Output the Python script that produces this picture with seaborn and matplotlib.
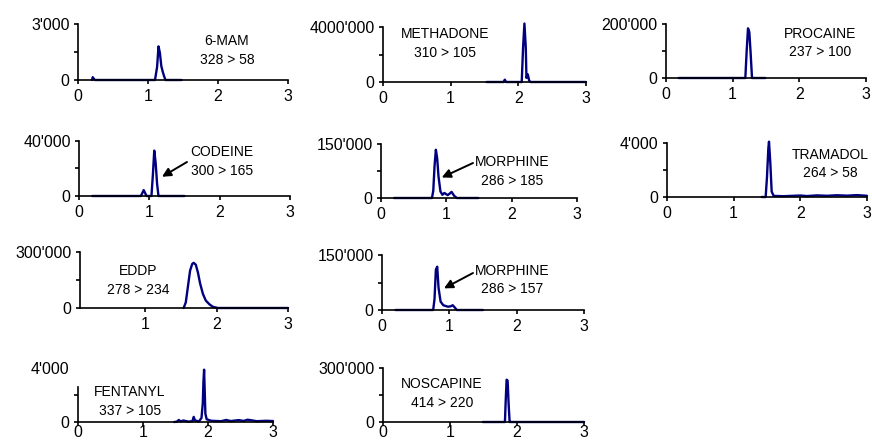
import matplotlib
matplotlib.use("Agg")
import matplotlib.pyplot as plt
from matplotlib.ticker import FixedLocator
import seaborn as sns

# ---- data: retention time (min) and counts per MRM transition ----
mam_t = [0.20, 0.21, 0.24, 0.60, 1.00, 1.10, 1.13, 1.15, 1.17, 1.19, 1.21, 1.23, 1.25, 1.48]
mam_y = [0, 150, 0, 0, 0, 0, 700, 1800, 1450, 750, 450, 200, 0, 0]

methadone_t = [1.53, 1.78, 1.80, 1.82, 2.05, 2.07, 2.09, 2.11, 2.12, 2.14, 2.16, 2.18, 3.00]
methadone_y = [0, 0, 170000, 0, 0, 2500000, 4250000, 2500000, 300000, 550000, 100000, 0, 0]

procaine_t = [0.19, 0.80, 1.19, 1.21, 1.23, 1.25, 1.27, 1.29, 1.49]
procaine_y = [0, 0, 0, 100000, 184000, 170000, 90000, 0, 0]

codeine_t = [0.19, 0.60, 0.88, 0.92, 0.96, 1.03, 1.05, 1.07, 1.09, 1.11, 1.13, 1.50]
codeine_y = [0, 0, 0, 4300, 0, 0, 15000, 33000, 24000, 9000, 0, 0]

morph185_t = [0.20, 0.60, 0.78, 0.80, 0.82, 0.84, 0.86, 0.88, 0.91, 0.94, 0.97, 1.02,
              1.05, 1.08, 1.12, 1.16, 1.49]
morph185_y = [0, 0, 0, 20000, 90000, 134000, 110000, 60000, 18000, 9000, 14000, 8000,
              12000, 17000, 6000, 0, 0]

tramadol_t = [1.42, 1.48, 1.50, 1.52, 1.53, 1.55, 1.57, 1.60, 1.75, 1.90, 2.00, 2.10,
              2.25, 2.40, 2.55, 2.70, 2.85, 3.00]
tramadol_y = [0, 0, 1500, 3600, 4100, 2500, 400, 80, 60, 90, 110, 70,
              120, 90, 130, 100, 140, 90]

eddp_t = [1.54, 1.57, 1.60, 1.63, 1.66, 1.68, 1.71, 1.74, 1.77, 1.81, 1.85, 1.90, 1.95, 2.02, 3.00]
eddp_y = [0, 30000, 115000, 200000, 236000, 242000, 232000, 190000, 132000, 75000,
          40000, 20000, 6000, 0, 0]

morph157_t = [0.20, 0.60, 0.76, 0.78, 0.80, 0.82, 0.84, 0.87, 0.91, 0.98, 1.02, 1.05,
              1.08, 1.11, 1.50]
morph157_y = [0, 0, 0, 30000, 110000, 118000, 60000, 23000, 13000, 9000, 10000, 13000,
              7000, 0, 0]

fentanyl_t = [1.48, 1.52, 1.55, 1.58, 1.62, 1.70, 1.76, 1.78, 1.80, 1.86, 1.90, 1.92,
              1.93, 1.94, 1.95, 1.96, 1.98, 2.05, 2.20, 2.28, 2.35, 2.47, 2.55, 2.61,
              2.75, 2.90, 3.00]
fentanyl_y = [0, 20, 150, 40, 110, 30, 60, 380, 120, 40, 300, 1400,
              3000, 3875, 2200, 600, 200, 90, 60, 150, 70, 140, 80, 170,
              60, 90, 70]

noscapine_t = [1.49, 1.80, 1.82, 1.83, 1.845, 1.86, 1.875, 1.89, 1.91, 3.00]
noscapine_y = [0, 0, 0, 105000, 235000, 230000, 100000, 0, 0, 0]

names = ["6-MAM", "METHADONE", "PROCAINE", "CODEINE", "MORPHINE", "TRAMADOL",
         "EDDP", "MORPHINE", "FENTANYL", "NOSCAPINE"]
transitions = ["328 > 58", "310 > 105", "237 > 100", "300 > 165", "286 > 185", "264 > 58",
               "278 > 234", "286 > 157", "337 > 105", "414 > 220"]
y_max = [3000, 4000000, 200000, 40000, 150000, 4000, 300000, 150000, 4000, 300000]
y_max_labels = ["3'000", "4000'000", "200'000", "40'000", "150'000", "4'000",
                "300'000", "150'000", "4'000", "300'000"]
traces = [(mam_t, mam_y), (methadone_t, methadone_y), (procaine_t, procaine_y),
          (codeine_t, codeine_y), (morph185_t, morph185_y), (tramadol_t, tramadol_y),
          (eddp_t, eddp_y), (morph157_t, morph157_y), (fentanyl_t, fentanyl_y),
          (noscapine_t, noscapine_y)]

# ---- layout (pixel boxes: left, top, right, bottom) ----
W, H = 872, 446
boxes = [(78, 24, 288, 80), (383, 27, 586, 82), (666, 24, 866, 78),
         (79, 141, 290, 196), (381, 144, 577, 198), (667, 143, 867, 197),
         (80, 252, 288, 308), (382, 255, 584, 310),
         (78, 368, 273, 422), (383, 368, 584, 422)]
label_pos = [(227, 50.5), (445, 43.5), (820, 43), (222, 161.5), (512, 171.5), (830, 164),
             (138, 280.5), (512, 280), (130, 401.5), (442, 393.5)]
# arrows: (panel, tip in data, tail in pixels)
arrows = [(3, (1.18, 14000), (187, 162)),
          (4, (0.93, 57000), (473, 163)),
          (7, (0.92, 59000), (473, 273))]

sns.set_theme(style="ticks")
plt.rcParams['font.family'] = ['Liberation Sans', 'DejaVu Sans']

fig = plt.figure(figsize=(W / 100, H / 100), dpi=100)
line_color = "#000080"
axes = []
for i, (l, t, r, b) in enumerate(boxes):
    ax = fig.add_axes([l / W, 1 - b / H, (r - l) / W, (b - t) / H])
    ax.set_facecolor("white")
    x, y = traces[i]
    sns.lineplot(x=x, y=y, ax=ax, color=line_color, linewidth=1.7,
                 estimator=None, sort=False, clip_on=False)
    ax.set_ylim(0, y_max[i])
    if i == 6:
        ax.set_xlim(0.09, 3)
        ax.set_xticks([1, 2, 3])
        ax.set_xticklabels(["1", "2", "3"])
    else:
        ax.set_xlim(0, 3)
        ax.set_xticks([0, 1, 2, 3])
        ax.set_xticklabels(["0", "1", "2", "3"])
    ax.set_yticks([0, y_max[i]])
    ax.set_yticklabels(["0", y_max_labels[i]])
    ax.yaxis.set_minor_locator(FixedLocator([y_max[i] / 2]))
    for s in ["top", "right"]:
        ax.spines[s].set_visible(False)
    for s in ["left", "bottom"]:
        ax.spines[s].set_color("black")
        ax.spines[s].set_linewidth(1.2)
    ax.tick_params(axis='both', which='major', direction='out', length=3, width=1.2,
                   colors='black', labelsize=11.5)
    ax.tick_params(axis='y', which='major', pad=3)
    # bottom row sits tight against the lower edge
    ax.tick_params(axis='x', which='major', pad=-1 if i >= 8 else 3.5)
    ax.tick_params(axis='y', which='minor', direction='out', length=3, width=1.2, colors='black')
    ax.set_xlabel("")
    ax.set_ylabel("")
    ax.grid(False)
    lx, ly = label_pos[i]
    fig.text(lx / W, 1 - ly / H, names[i] + "\n" + transitions[i], ha='center', va='center',
             fontsize=10, linespacing=1.45, color='black')
    axes.append(ax)

# fentanyl: upper part of y axis hidden behind the label box
axes[8].spines['left'].set_bounds(0, 2600)
axes[8].yaxis.get_major_ticks()[1].tick1line.set_visible(False)

for idx, tip, tail in arrows:
    axes[idx].annotate("", xy=tip, xycoords='data',
                       xytext=(tail[0] / W, 1 - tail[1] / H), textcoords='figure fraction',
                       arrowprops=dict(arrowstyle='-|>', color='black', lw=1.4,
                                       mutation_scale=13, shrinkA=0, shrinkB=0))

fig.savefig("out.png", dpi=100, facecolor="white")
